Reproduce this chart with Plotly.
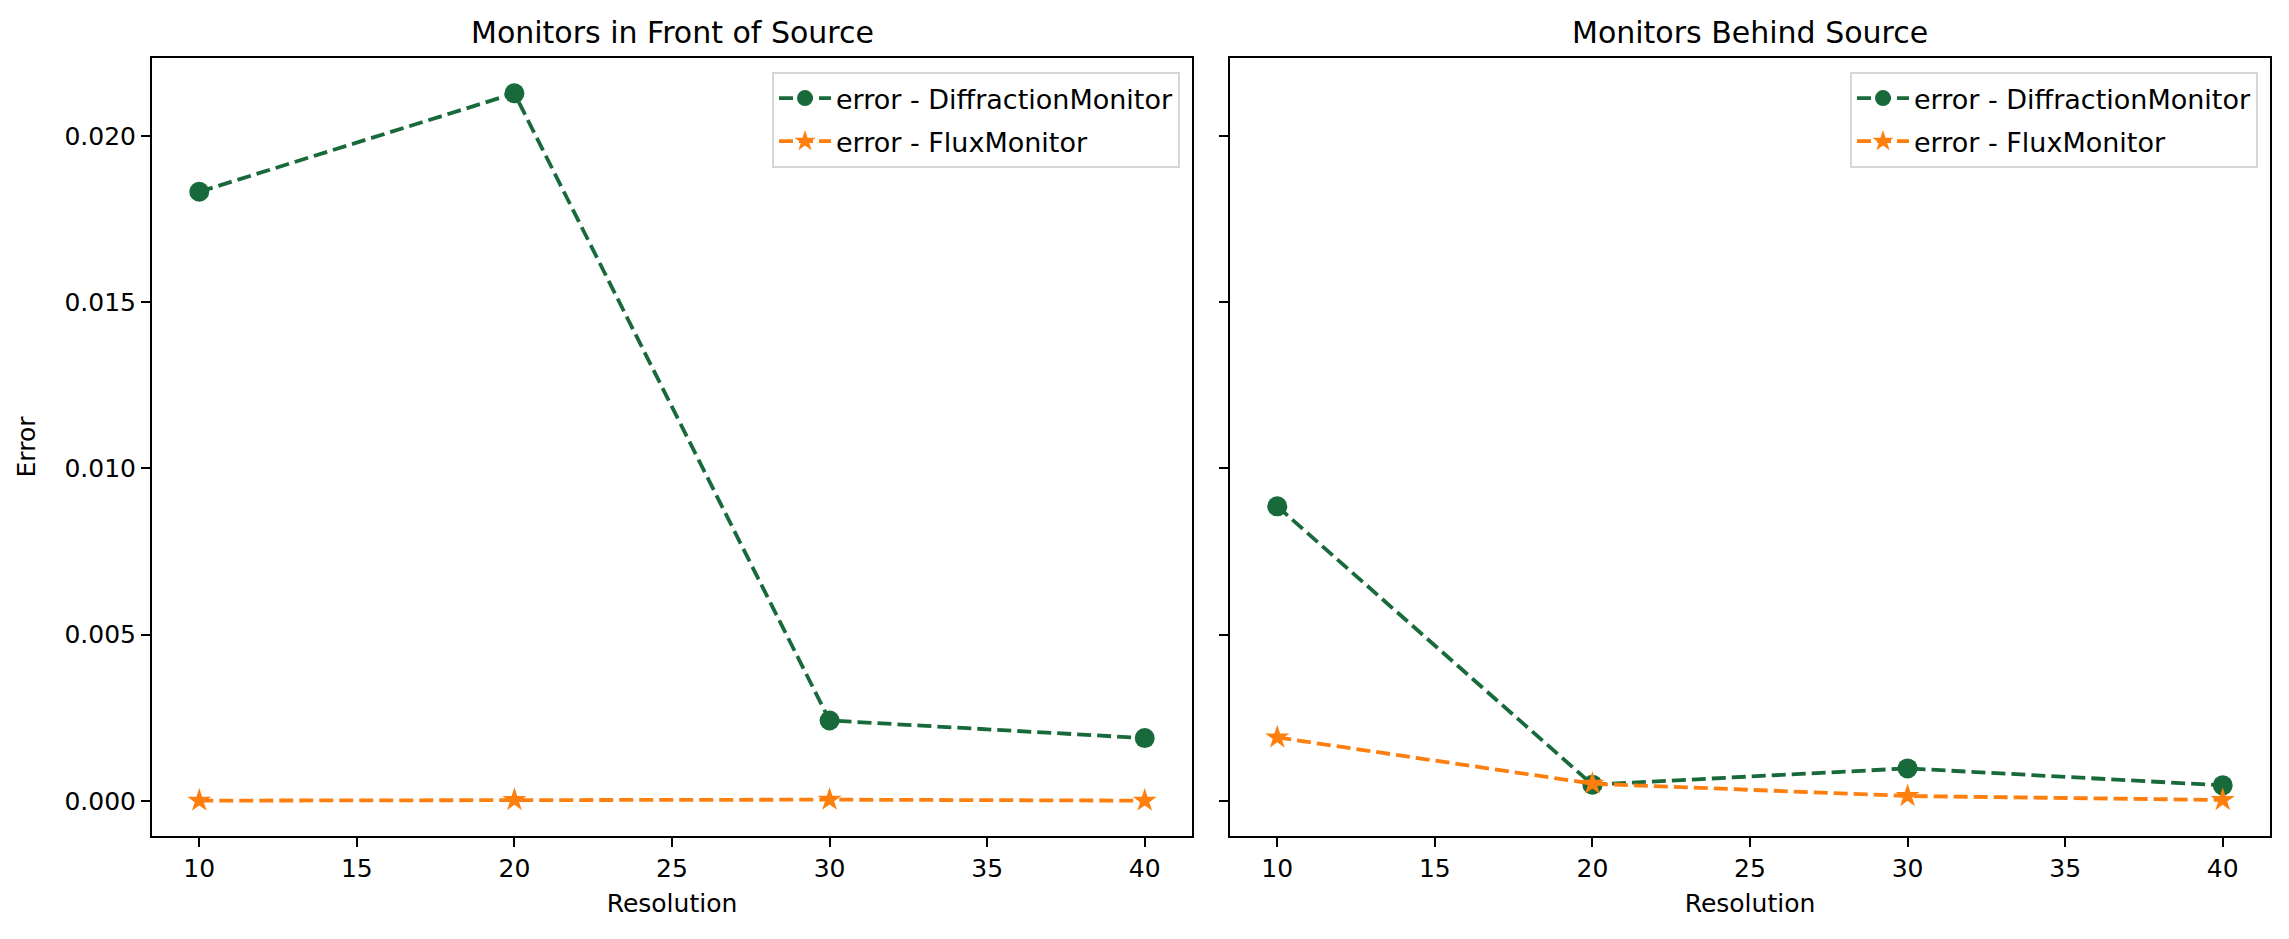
import plotly.graph_objects as go

resolution = [10, 20, 30, 40]
front_diffraction = [0.01832, 0.02128, 0.00242, 0.00189]
front_flux = [0.00001, 0.00003, 0.00004, 0.00001]
behind_diffraction = [0.00886, 0.00049, 0.00098, 0.00047]
behind_flux = [0.00191, 0.00052, 0.00015, 0.00003]

titles = ["Monitors in Front of Source", "Monitors Behind Source"]
series_names = ["error - DiffractionMonitor", "error - FluxMonitor"]
y_ticks = [0.0, 0.005, 0.010, 0.015, 0.020]
x_ticks = [10, 15, 20, 25, 30, 35, 40]

GREEN = "#186a3b"
ORANGE = "#ff7f0e"
FONT = "DejaVu Sans"
# page body has an 8px margin, so the figure is shrunk by 8px to fit
W, H = 2281, 931
ML, MR, MT, MB = 144, 19, 50, 103
pw = W - ML - MR
ph = H - MT - MB
d1 = (0.0, 1040 / pw)
d2 = (1078 / pw, 1.0)

fig = go.Figure()
panels = [
    ("x", "y", "legend", front_diffraction, front_flux),
    ("x2", "y2", "legend2", behind_diffraction, behind_flux),
]
for i, (xa, ya, lg, dif, flx) in enumerate(panels):
    fig.add_trace(go.Scatter(
        x=resolution, y=dif, xaxis=xa, yaxis=ya, legend=lg,
        name=series_names[0], legendgroup=f"d{i}", mode="lines+markers",
        line=dict(color=GREEN, width=3.8, dash="14px,6px"),
        marker=dict(symbol="circle", size=20, color=GREEN),
    ))
    fig.add_trace(go.Scatter(
        x=resolution, y=flx, xaxis=xa, yaxis=ya, legend=lg,
        name=series_names[1], legendgroup=f"f{i}", mode="lines+markers",
        line=dict(color=ORANGE, width=3.8, dash="14px,6px"),
        marker=dict(symbol="star", size=18, color=ORANGE, line=dict(width=0)),
    ))

all_vals = front_diffraction + front_flux + behind_diffraction + behind_flux
lo, hi = min(all_vals), max(all_vals)
pad = 0.05 * (hi - lo)
yr = [lo - pad, hi + pad]
xr = [8.5, 41.5]

axis_common = dict(
    showline=True, linecolor="black", linewidth=2, mirror=True,
    ticks="outside", ticklen=9, tickwidth=2, tickcolor="black",
    showgrid=False, zeroline=False,
    tickfont=dict(family=FONT, size=25, color="black"),
)

legend_common = dict(
    xanchor="right", y=1 - 14 / ph, yanchor="top",
    bgcolor="rgba(255,255,255,0.8)", bordercolor="#d6d6d6", borderwidth=2,
    font=dict(family=FONT, size=27, color="black"), tracegroupgap=5, itemwidth=52,
)

fig.update_layout(
    width=W, height=H,
    margin=dict(l=ML, r=MR, t=MT, b=MB),
    paper_bgcolor="white", plot_bgcolor="white",
    font=dict(family=FONT, size=25, color="black"),
    xaxis=dict(domain=d1, range=xr, tickvals=x_ticks, anchor="y",
               title=dict(text="Resolution", font=dict(size=25), standoff=12),
               **axis_common),
    xaxis2=dict(domain=d2, range=xr, tickvals=x_ticks, anchor="y2",
                title=dict(text="Resolution", font=dict(size=25), standoff=12),
                **axis_common),
    yaxis=dict(range=yr, tickvals=y_ticks, tickformat=".3f", anchor="x",
               title=dict(text="Error", font=dict(size=25), standoff=22),
               **axis_common),
    yaxis2=dict(range=yr, tickvals=y_ticks, showticklabels=False, anchor="x2",
                matches="y", **axis_common),
    legend=dict(x=d1[1] - 12 / pw, **legend_common),
    legend2=dict(x=1 - 12 / pw, **legend_common),
    showlegend=True,
)

for t, dom in zip(titles, [d1, d2]):
    fig.add_annotation(text=t, x=(dom[0] + dom[1]) / 2, y=1, xref="paper", yref="paper",
                       xanchor="center", yanchor="bottom", yshift=6, showarrow=False,
                       font=dict(family=FONT, size=30, color="black"))

fig.write_html("out.html")
